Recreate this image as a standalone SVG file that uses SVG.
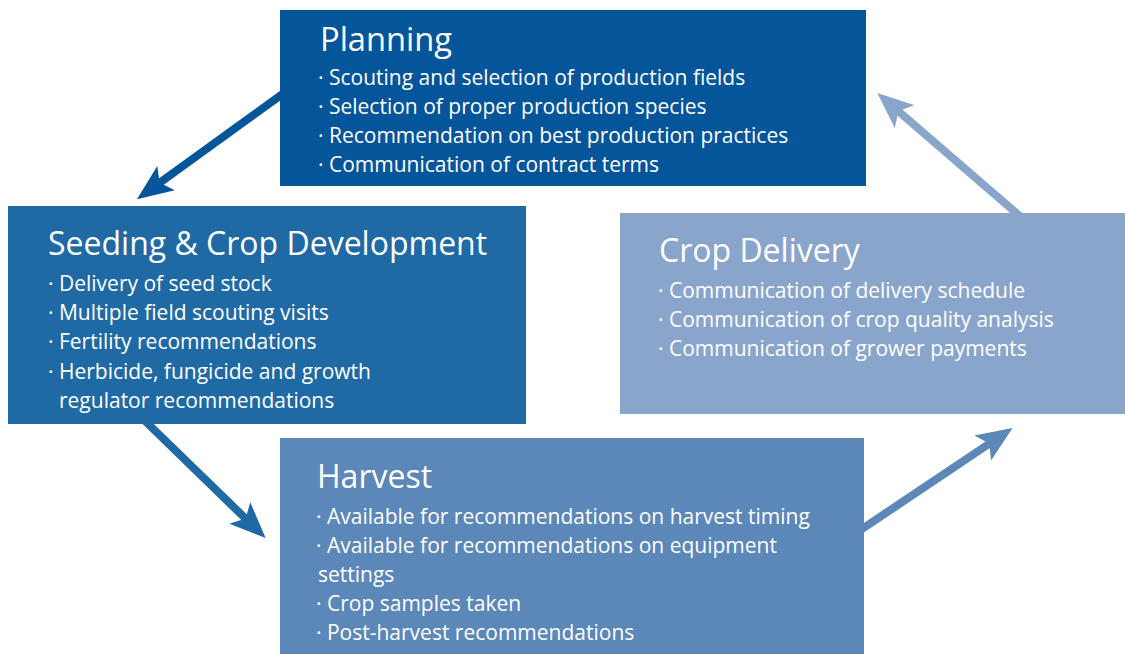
<svg xmlns="http://www.w3.org/2000/svg" width="1125" height="654" viewBox="0 0 1125 654">
<style>
.t{font-family:"Open Sans","Noto Sans",sans-serif;fill:#fff;font-size:32px}
.b{font-family:"Open Sans","Noto Sans",sans-serif;fill:#fff;font-size:21px}
.c{fill:none;stroke-width:8}
</style>
<defs>
<marker id="m1" markerUnits="userSpaceOnUse" viewBox="0 0 36 30" markerWidth="36" markerHeight="30" refX="10" refY="15" orient="auto"><path d="M0,0 L36,15 L0,30 L8,15 z" fill="#04559a"/></marker>
<marker id="m2" markerUnits="userSpaceOnUse" viewBox="0 0 36 30" markerWidth="36" markerHeight="30" refX="10" refY="15" orient="auto"><path d="M0,0 L36,15 L0,30 L8,15 z" fill="#1f6aa5"/></marker>
<marker id="m3" markerUnits="userSpaceOnUse" viewBox="0 0 36 30" markerWidth="36" markerHeight="30" refX="10" refY="15" orient="auto"><path d="M0,0 L36,15 L0,30 L8,15 z" fill="#5b87b9"/></marker>
<marker id="m4" markerUnits="userSpaceOnUse" viewBox="0 0 36 30" markerWidth="36" markerHeight="30" refX="10" refY="15" orient="auto"><path d="M0,0 L36,15 L0,30 L8,15 z" fill="#8aa5cc"/></marker>
</defs>
<rect width="1125" height="654" fill="#fff"/>
<g id="connectors">
<line class="c" x1="288" y1="90" x2="158" y2="184" stroke="#04559a" marker-end="url(#m1)"/>
<line class="c" x1="142" y1="418" x2="247" y2="520" stroke="#1f6aa5" marker-end="url(#m2)"/>
<line class="c" x1="856" y1="533" x2="991" y2="442.5" stroke="#5b87b9" marker-end="url(#m3)"/>
<line class="c" x1="1022" y1="218" x2="897" y2="110" stroke="#8aa5cc" marker-end="url(#m4)"/>
</g>
<g id="planning">
<rect x="280" y="10" width="586" height="176" fill="#04559a"/>
<text class="t" x="320" y="51" textLength="132" lengthAdjust="spacingAndGlyphs">Planning</text>
<text class="b" x="318" y="85">· Scouting and selection of production fields</text>
<text class="b" x="318" y="114">· Selection of proper production species</text>
<text class="b" x="318" y="143">· Recommendation on best production practices</text>
<text class="b" x="318" y="172">· Communication of contract terms</text>
</g>
<g id="seeding">
<rect x="8" y="206" width="518" height="218" fill="#1f6aa5"/>
<text class="t" x="48" y="255">Seeding &amp; Crop Development</text>
<text class="b" x="48" y="291">· Delivery of seed stock</text>
<text class="b" x="48" y="320">· Multiple field scouting visits</text>
<text class="b" x="48" y="349">· Fertility recommendations</text>
<text class="b" x="48" y="379">· Herbicide, fungicide and growth</text>
<text class="b" x="59" y="408">regulator recommendations</text>
</g>
<g id="delivery">
<rect x="620" y="213" width="505" height="201" fill="#8aa5cc"/>
<text class="t" x="659" y="262">Crop Delivery</text>
<text class="b" x="658" y="298">· Communication of delivery schedule</text>
<text class="b" x="658" y="327">· Communication of crop quality analysis</text>
<text class="b" x="658" y="356">· Communication of grower payments</text>
</g>
<g id="harvest">
<rect x="280" y="438" width="584" height="216" fill="#5b87b9"/>
<text class="t" x="317" y="488">Harvest</text>
<text class="b" x="316" y="524">· Available for recommendations on harvest timing</text>
<text class="b" x="316" y="553">· Available for recommendations on equipment</text>
<text class="b" x="318" y="582">settings</text>
<text class="b" x="316" y="611">· Crop samples taken</text>
<text class="b" x="316" y="640">· Post-harvest recommendations</text>
</g>
</svg>
